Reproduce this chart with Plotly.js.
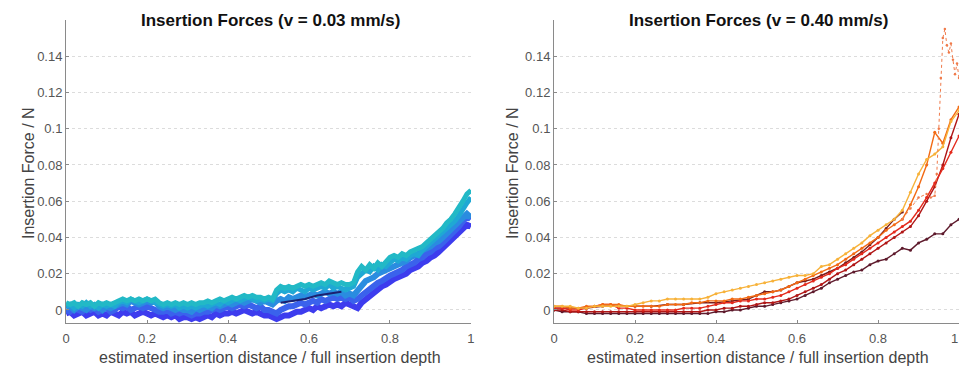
<!DOCTYPE html>
<html>
<head>
<meta charset="utf-8">
<script src="https://cdn.plot.ly/plotly-3.0.1.min.js"></script>
<style>html,body{margin:0;padding:0;background:#fff;}#chart{width:960px;height:366px;}</style>
</head>
<body>
<div id="chart"></div>
<script>
// fine x grid for the slow (0.03 mm/s) runs
var xsFine = [0,0.01,0.02,0.03,0.04,0.05,0.06,0.07,0.08,0.09,
  0.10,0.11,0.12,0.13,0.14,0.15,0.16,0.17,0.18,0.19,
  0.20,0.21,0.22,0.23,0.24,0.25,0.26,0.27,0.28,0.29,
  0.30,0.31,0.32,0.33,0.34,0.35,0.36,0.37,0.38,0.39,
  0.40,0.41,0.42,0.43,0.44,0.45,0.46,0.47,0.48,0.49,
  0.50,0.51,0.52,0.53,0.54,0.55,0.56,0.57,0.58,0.59,
  0.60,0.61,0.62,0.63,0.64,0.65,0.66,0.67,0.68,0.69,
  0.70,0.71,0.72,0.73,0.74,0.75,0.76,0.77,0.78,0.79,
  0.80,0.81,0.82,0.83,0.84,0.85,0.86,0.87,0.88,0.89,
  0.90,0.91,0.92,0.93,0.94,0.95,0.96,0.97,0.98,0.99,1.00];
// coarser x grid for the fast (0.40 mm/s) runs
var xs = [0,0.02,0.04,0.06,0.08,0.10,0.12,0.14,0.16,0.18,0.20,0.22,0.24,0.26,0.28,0.30,0.32,0.34,0.36,0.38,0.40,0.42,0.44,0.46,0.48,0.50,0.52,0.54,0.56,0.58,0.60,0.62,0.64,0.66,0.68,0.70,0.72,0.74,0.76,0.78,0.80,0.82,0.84,0.86,0.88,0.90,0.92,0.94,0.96,0.98,1.00];

// ---- v = 0.03 mm/s (left) ----
var slowBlue1 = [-0.002,-0.001,-0.003,-0.002,-0.001,-0.003,-0.002,-0.001,-0.003,-0.002,
  -0.003,-0.001,-0.002,-0.003,-0.001,-0.002,-0.001,-0.003,-0.002,-0.001,
  -0.002,-0.003,-0.002,-0.003,-0.004,-0.003,-0.004,-0.003,-0.005,-0.004,
  -0.004,-0.005,-0.004,-0.005,-0.004,-0.003,-0.004,-0.002,-0.003,-0.002,
  -0.002,-0.001,-0.002,-0.001,0.000,-0.001,-0.002,-0.001,-0.002,-0.003,
  -0.003,-0.004,-0.005,-0.004,-0.003,-0.003,-0.002,-0.001,-0.001,0.000,
  0.001,0.000,0.002,0.001,0.002,0.003,0.002,0.003,0.002,0.004,
  0.003,0.002,0.001,0.004,0.006,0.008,0.009,0.011,0.013,0.014,
  0.016,0.017,0.018,0.019,0.020,0.022,0.023,0.024,0.026,0.027,
  0.029,0.030,0.032,0.034,0.036,0.038,0.040,0.042,0.045,0.047,0.046];
var slowBlue2 = [0.000,-0.001,0.001,0.000,-0.001,0.001,0.000,0.001,-0.001,0.000,
  0.001,-0.001,0.000,0.002,0.001,0.002,0.000,0.001,0.002,0.001,
  0.002,0.001,0.000,-0.001,-0.001,0.000,-0.002,-0.001,-0.002,-0.001,
  -0.002,-0.003,-0.002,-0.002,-0.001,-0.001,0.000,0.001,0.000,0.001,
  0.002,0.001,0.002,0.003,0.002,0.003,0.002,0.001,0.002,0.000,
  0.000,-0.001,-0.002,0.000,0.001,0.002,0.002,0.003,0.004,0.003,
  0.004,0.005,0.004,0.006,0.005,0.006,0.007,0.006,0.007,0.006,
  0.007,0.005,0.006,0.008,0.010,0.012,0.013,0.015,0.016,0.018,
  0.019,0.020,0.021,0.022,0.024,0.025,0.026,0.028,0.029,0.031,
  0.032,0.034,0.035,0.037,0.039,0.041,0.043,0.046,0.049,0.052,0.050];
var slowMid = [0.001,0.002,0.000,0.002,0.001,0.000,0.002,0.001,0.002,0.000,
  0.002,0.001,0.002,0.003,0.004,0.003,0.005,0.004,0.003,0.004,
  0.005,0.004,0.005,0.002,0.001,0.002,0.001,0.000,0.001,0.000,
  0.000,-0.001,0.001,0.000,0.001,0.002,0.001,0.003,0.002,0.003,
  0.004,0.003,0.004,0.005,0.004,0.005,0.006,0.005,0.004,0.005,
  0.004,0.003,0.005,0.006,0.005,0.007,0.006,0.007,0.008,0.007,
  0.008,0.009,0.008,0.009,0.010,0.009,0.010,0.009,0.010,0.008,
  0.009,0.008,0.011,0.014,0.016,0.017,0.018,0.020,0.021,0.022,
  0.023,0.024,0.025,0.026,0.027,0.029,0.030,0.031,0.033,0.034,
  0.035,0.037,0.038,0.040,0.042,0.044,0.046,0.048,0.051,0.053,0.051];
var slowCyan = [0.002,0.003,0.001,0.003,0.002,0.004,0.002,0.003,0.001,0.003,
  0.002,0.003,0.002,0.004,0.005,0.004,0.006,0.005,0.004,0.005,
  0.006,0.005,0.004,0.003,0.002,0.003,0.002,0.003,0.001,0.002,
  0.001,0.002,0.001,0.002,0.003,0.002,0.003,0.004,0.003,0.005,
  0.004,0.005,0.006,0.005,0.006,0.007,0.006,0.005,0.006,0.005,
  0.006,0.005,0.009,0.011,0.010,0.011,0.010,0.012,0.011,0.010,
  0.012,0.011,0.012,0.013,0.012,0.014,0.012,0.013,0.012,0.011,
  0.012,0.013,0.018,0.020,0.022,0.021,0.024,0.022,0.025,0.024,
  0.026,0.028,0.027,0.029,0.028,0.030,0.031,0.030,0.033,0.035,
  0.037,0.039,0.041,0.043,0.045,0.047,0.049,0.052,0.056,0.059,0.062];
var slowTeal = [0.004,0.003,0.004,0.002,0.004,0.003,0.004,0.002,0.004,0.003,
  0.004,0.003,0.004,0.005,0.006,0.005,0.006,0.005,0.006,0.005,
  0.006,0.005,0.006,0.004,0.003,0.004,0.003,0.004,0.003,0.004,
  0.003,0.004,0.003,0.004,0.004,0.005,0.004,0.005,0.006,0.005,
  0.006,0.007,0.006,0.007,0.008,0.007,0.008,0.007,0.007,0.006,
  0.007,0.006,0.011,0.013,0.012,0.013,0.012,0.013,0.014,0.013,
  0.014,0.013,0.014,0.015,0.014,0.016,0.015,0.014,0.015,0.014,
  0.014,0.015,0.021,0.024,0.022,0.025,0.023,0.026,0.024,0.027,
  0.029,0.030,0.029,0.031,0.030,0.032,0.033,0.034,0.035,0.037,
  0.039,0.041,0.043,0.045,0.048,0.050,0.053,0.056,0.060,0.064,0.066];
var slowNavyX = [0.53,0.56,0.59,0.62,0.65,0.68];
var slowNavy = [0.004,0.005,0.006,0.008,0.009,0.010];

// ---- v = 0.40 mm/s (right) ----
var fastMaroon = [0.000,-0.001,-0.001,-0.001,-0.002,-0.002,-0.002,-0.002,-0.002,-0.002,-0.002,-0.002,-0.002,-0.002,-0.002,-0.002,-0.002,-0.002,-0.002,-0.002,-0.001,-0.001,0.000,0.000,0.001,0.002,0.002,0.003,0.004,0.005,0.006,0.008,0.010,0.012,0.015,0.017,0.019,0.021,0.022,0.025,0.027,0.028,0.031,0.034,0.033,0.037,0.039,0.042,0.042,0.047,0.050];
var fastDarkRed = [0.000,0.000,-0.001,-0.001,-0.001,-0.001,-0.001,-0.001,-0.001,-0.001,-0.001,-0.001,-0.001,-0.001,-0.001,-0.001,-0.001,-0.001,-0.001,0.000,0.000,0.001,0.001,0.002,0.002,0.003,0.004,0.004,0.005,0.006,0.008,0.010,0.012,0.014,0.017,0.020,0.022,0.025,0.028,0.031,0.034,0.037,0.040,0.043,0.046,0.052,0.060,0.068,0.080,0.095,0.108];
var fastDarkX = [0,0.04,0.08,0.12,0.16,0.20,0.24,0.28,0.32,0.36,0.40,0.44,0.48,0.50,0.52,0.54,0.56,0.58,0.60,0.62,0.64,0.66,0.68,0.70,0.72,0.74,0.76,0.78,0.80,0.82,0.84,0.86];
var fastDark = [0.001,0.001,0.001,0.002,0.002,0.002,0.002,0.003,0.003,0.004,0.004,0.005,0.006,0.008,0.010,0.010,0.011,0.013,0.015,0.016,0.017,0.019,0.021,0.023,0.026,0.029,0.032,0.036,0.040,0.045,0.050,0.054];
var fastRed = [0.001,0.001,0.000,0.000,0.001,0.002,0.003,0.003,0.001,0.001,0.000,0.000,0.000,0.000,0.000,0.000,0.001,0.001,0.001,0.002,0.003,0.004,0.004,0.005,0.005,0.006,0.006,0.007,0.008,0.010,0.012,0.014,0.016,0.018,0.020,0.023,0.025,0.028,0.031,0.034,0.037,0.040,0.043,0.046,0.049,0.055,0.062,0.070,0.078,0.087,0.096];
var fastOrange = [0.002,0.002,0.001,0.001,0.002,0.002,0.003,0.003,0.003,0.002,0.002,0.002,0.002,0.002,0.003,0.003,0.003,0.004,0.004,0.005,0.005,0.005,0.006,0.006,0.007,0.008,0.009,0.010,0.011,0.013,0.015,0.017,0.019,0.021,0.023,0.025,0.028,0.031,0.034,0.037,0.040,0.044,0.047,0.050,0.058,0.068,0.080,0.098,0.092,0.105,0.112];
var fastYellow = [0.002,0.002,0.002,0.001,0.001,0.002,0.002,0.002,0.002,0.002,0.003,0.004,0.005,0.005,0.006,0.006,0.006,0.006,0.006,0.007,0.009,0.010,0.011,0.012,0.013,0.014,0.015,0.016,0.017,0.018,0.019,0.019,0.020,0.024,0.025,0.028,0.031,0.034,0.037,0.041,0.044,0.047,0.050,0.055,0.065,0.075,0.083,0.086,0.090,0.104,0.110];
var fastPeakX = [0.86,0.88,0.90,0.92,0.93,0.94,0.945,0.95,0.955,0.96,0.965,0.97,0.975,0.98,0.985,0.99,0.995,1.00];
var fastPeak = [0.050,0.056,0.062,0.064,0.062,0.063,0.075,0.100,0.128,0.150,0.155,0.146,0.142,0.147,0.138,0.130,0.136,0.128];

var yTicks = [0,0.02,0.04,0.06,0.08,0.10,0.12,0.14];
var yTickText = ['0','0.02','0.04','0.06','0.08','0.1','0.12','0.14'];
var xTicks = [0,0.2,0.4,0.6,0.8,1];
var xTickText = ['0','0.2','0.4','0.6','0.8','1'];

var titleLeft = 'Insertion Forces (v = 0.03 mm/s)';
var titleRight = 'Insertion Forces (v = 0.40 mm/s)';
var xLabel = 'estimated insertion distance / full insertion depth';
var yLabel = 'Insertion Force / N';

function slowTrace(x, y, color, w) {
  return {x: x, y: y, xaxis: 'x', yaxis: 'y', type: 'scatter', mode: 'lines',
          line: {color: color, width: w}, hoverinfo: 'skip', showlegend: false};
}
function fastTrace(x, y, color, dash) {
  return {x: x, y: y, xaxis: 'x2', yaxis: 'y2', type: 'scatter', mode: 'lines+markers',
          line: {color: color, width: dash ? 1 : 1.4, dash: dash || 'solid'},
          marker: {color: color, size: dash ? 2.5 : 3},
          hoverinfo: 'skip', showlegend: false};
}

var data = [
  slowTrace(xsFine, slowBlue1, '#3d3cee', 6),
  slowTrace(xsFine, slowBlue2, '#3a62ec', 6),
  slowTrace(xsFine, slowMid, '#2a8ce0', 6),
  slowTrace(xsFine, slowCyan, '#1fa8d4', 5),
  slowTrace(xsFine, slowTeal, '#22b9c6', 5),
  slowTrace(slowNavyX, slowNavy, '#1c2070', 2),
  fastTrace(xs, fastMaroon, '#5e1a2c'),
  fastTrace(fastDarkX, fastDark, '#7a1c1c'),
  fastTrace(xs, fastDarkRed, '#b01616'),
  fastTrace(xs, fastRed, '#e42a1c'),
  fastTrace(xs, fastOrange, '#f26a14'),
  fastTrace(xs, fastYellow, '#f7b23a'),
  fastTrace(fastPeakX, fastPeak, '#f07a4a', 'dot')
];

var tickFont = {family: 'Liberation Sans, Arial, sans-serif', size: 13, color: '#555'};
var axisCommon = {
  showline: true, linecolor: '#8a8a8a', linewidth: 1, mirror: false,
  ticks: 'inside', ticklen: 3, tickcolor: '#8a8a8a', zeroline: false,
  tickfont: tickFont
};
function xAxis(domain, anchor) {
  return Object.assign({}, axisCommon, {domain: domain, anchor: anchor, range: [0, 1],
    tickvals: xTicks, ticktext: xTickText, showgrid: false, ticklabelstandoff: 3});
}
function yAxis(domain, anchor) {
  return Object.assign({}, axisCommon, {domain: domain, anchor: anchor, range: [-0.0072, 0.16],
    tickvals: yTicks, ticktext: yTickText, showgrid: true, gridcolor: '#dcdcdc',
    griddash: 'dot', gridwidth: 1});
}

var titleFont = {family: 'Liberation Sans, Arial, sans-serif', size: 17, color: '#111'};
var labelFont = {family: 'Liberation Sans, Arial, sans-serif', size: 16, color: '#444'};

var layout = {
  width: 960, height: 366,
  margin: {l: 0, r: 0, t: 0, b: 0},
  paper_bgcolor: '#fff', plot_bgcolor: '#fff',
  showlegend: false,
  xaxis: xAxis([0.0688, 0.4906], 'y'),
  yaxis: yAxis([0.1175, 0.9454], 'x'),
  xaxis2: xAxis([0.5771, 0.999], 'y2'),
  yaxis2: yAxis([0.1175, 0.9454], 'x2'),
  annotations: [
    {text: '<b>' + titleLeft + '</b>', xref: 'paper', yref: 'paper', x: 0.282, y: 1 - 21/366, xanchor: 'center', yanchor: 'middle', showarrow: false, font: titleFont},
    {text: '<b>' + titleRight + '</b>', xref: 'paper', yref: 'paper', x: 0.7906, y: 1 - 21/366, xanchor: 'center', yanchor: 'middle', showarrow: false, font: titleFont},
    {text: xLabel, xref: 'paper', yref: 'paper', x: 0.281, y: 1 - 357/366, xanchor: 'center', yanchor: 'middle', showarrow: false, font: labelFont},
    {text: xLabel, xref: 'paper', yref: 'paper', x: 0.790, y: 1 - 357/366, xanchor: 'center', yanchor: 'middle', showarrow: false, font: labelFont},
    {text: yLabel, xref: 'paper', yref: 'paper', x: 28/960, y: 1 - 173/366, xanchor: 'center', yanchor: 'middle', textangle: -90, showarrow: false, font: labelFont},
    {text: yLabel, xref: 'paper', yref: 'paper', x: 512/960, y: 1 - 173/366, xanchor: 'center', yanchor: 'middle', textangle: -90, showarrow: false, font: labelFont},
    // right panel's last x tick label (kept inside the page edge)
    {text: xTickText[5], xref: 'paper', yref: 'paper', x: 1, y: 1 - 338/366, xanchor: 'right', yanchor: 'middle', showarrow: false, font: tickFont}
  ]
};

Plotly.newPlot('chart', data, layout, {staticPlot: true, displayModeBar: false});
</script>
</body>
</html>
